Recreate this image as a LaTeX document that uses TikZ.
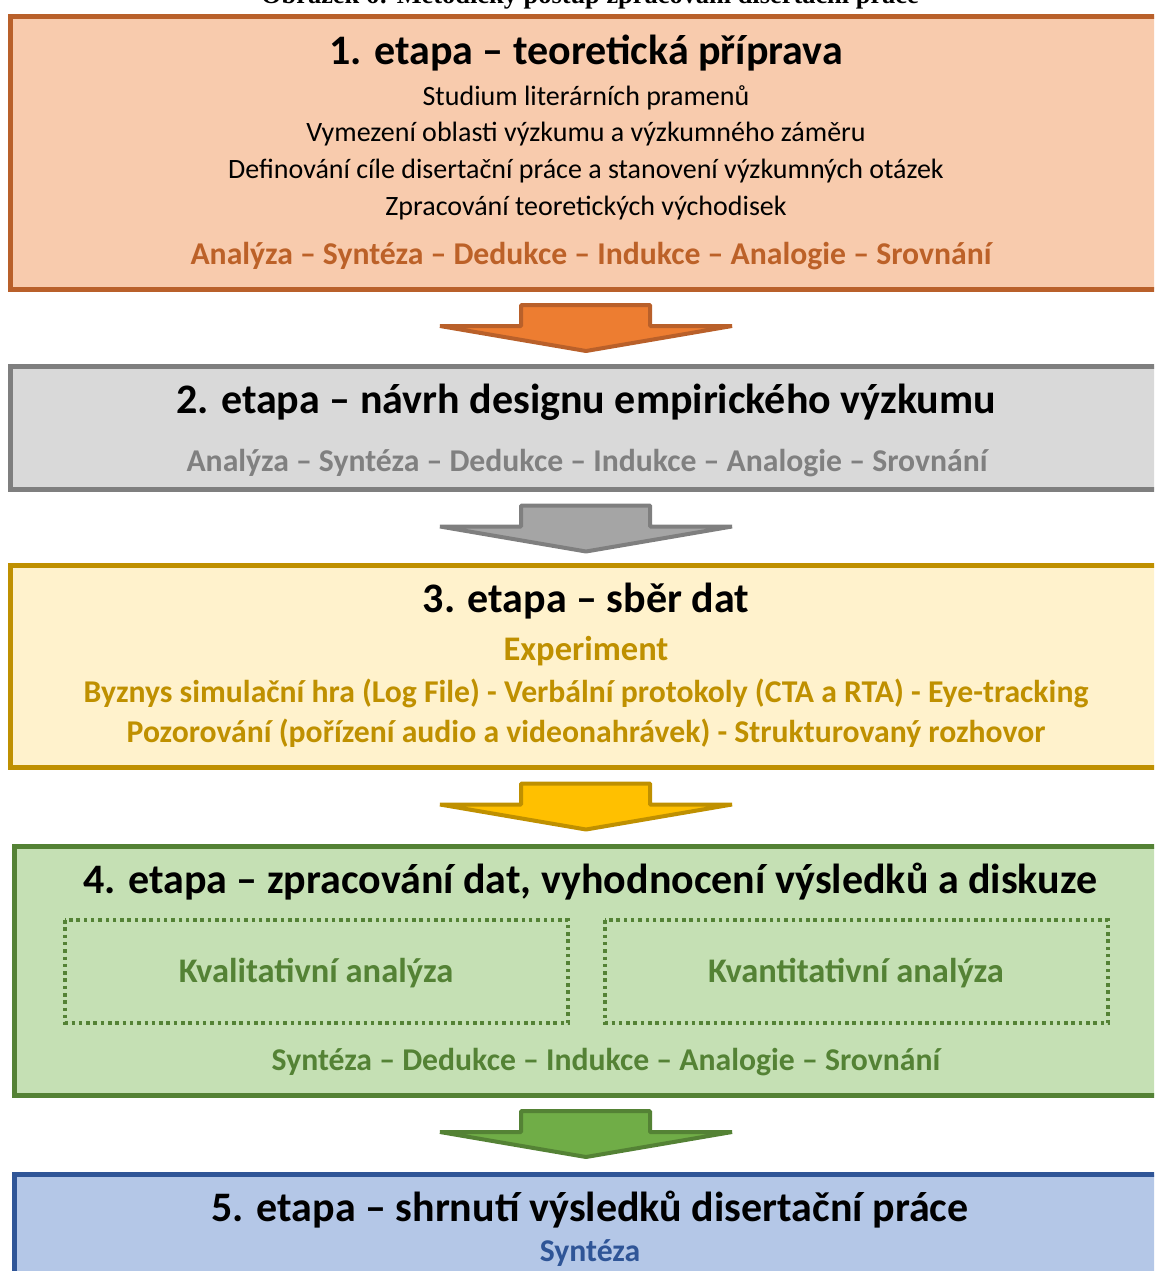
\documentclass[tikz,border=0pt]{standalone}
\usepackage{fontspec}
\setmainfont{Carlito}
\newfontfamily\capfont{Liberation Serif}
\definecolor{oBorder}{HTML}{B9602A}
\definecolor{oFill}{HTML}{F8CBAD}
\definecolor{oText}{HTML}{BC6128}
\definecolor{oArrow}{HTML}{ED7D31}
\definecolor{gBorder}{HTML}{7F7F7F}
\definecolor{gFill}{HTML}{D9D9D9}
\definecolor{gText}{HTML}{808080}
\definecolor{gArrow}{HTML}{A5A5A5}
\definecolor{yBorder}{HTML}{BF9000}
\definecolor{yFill}{HTML}{FFF2CC}
\definecolor{yArrow}{HTML}{FFC000}
\definecolor{vBorder}{HTML}{548235}
\definecolor{vFill}{HTML}{C5E0B4}
\definecolor{vArrow}{HTML}{70AD47}
\definecolor{bBorder}{HTML}{2F5597}
\definecolor{bFill}{HTML}{B4C7E7}
\tikzset{
  stagebox/.style={line width=5pt},
  titletext/.style={anchor=base, inner sep=0pt, font=\fontsize{42}{50}\selectfont\bfseries},
  bodytext/.style={anchor=base, inner sep=0pt, font=\fontsize{28}{32}\selectfont},
  methtext/.style={anchor=base, inner sep=0pt, font=\fontsize{31.7}{36}\selectfont\bfseries},
  exptext/.style={anchor=base, inner sep=0pt, font=\fontsize{34.5}{38}\selectfont\bfseries},
  anatext/.style={anchor=center, inner sep=0pt, font=\fontsize{34.5}{38}\selectfont\bfseries, text=vBorder},
  dotbox/.style={draw=vBorder, line width=3.5pt, dash pattern=on 3.5pt off 3.8pt},
  blockarr/.pic={\path[pic actions] (-65,0) -- (64,0) -- (64,21) -- (146,21) -- (0,46) -- (-146,21) -- (-65,21) -- cycle;},
  arrstyle/.style={line width=4pt, line join=bevel}
}
\begin{document}
\begin{tikzpicture}[x=1pt,y=-1pt]
\useasboundingbox (0,0) rectangle (1154,1271);
\clip (0,0) rectangle (1154,1271);
% caption (cut off at the top, as in the source)
\node[anchor=base, inner sep=0pt, font=\capfont\bfseries\fontsize{26.4}{30}\selectfont] (cap) at (590,4) {Obrázek 6: Metodický postup zpracování disertační práce};
% stage 1
\draw[stagebox, draw=oBorder, fill=oFill] (10.5,16.5) rectangle (1175,289);
\node[titletext] (t1) at (586,65) {1. etapa – teoretická příprava};
\node[bodytext] (l1a) at (586,106) {Studium literárních pramenů};
\node[bodytext] (l1b) at (586,142) {Vymezení oblasti výzkumu a výzkumného záměru};
\node[bodytext] (l1c) at (586,178) {Definování cíle disertační práce a stanovení výzkumných otázek};
\node[bodytext] (l1d) at (586,215) {Zpracování teoretických východisek};
\node[methtext, text=oText] (m1) at (591,264) {Analýza – Syntéza – Dedukce – Indukce – Analogie – Srovnání};
\pic[arrstyle, fill=oArrow, draw=oBorder] (a1) at (586,305) {blockarr};
% stage 2
\draw[stagebox, draw=gBorder, fill=gFill] (10.5,366) rectangle (1175,489.5);
\node[titletext] (t2) at (586,413) {2. etapa – návrh designu empirického výzkumu};
\node[methtext, text=gText] (m2) at (587,471) {Analýza – Syntéza – Dedukce – Indukce – Analogie – Srovnání};
\pic[arrstyle, fill=gArrow, draw=gBorder] (a2) at (586,505.5) {blockarr};
% stage 3
\draw[stagebox, draw=yBorder, fill=yFill] (10.5,565.5) rectangle (1175,767.5);
\node[titletext] (t3) at (586,612) {3. etapa – sběr dat};
\node[exptext, text=yBorder] (e3) at (586,660) {Experiment};
\node[methtext, text=yBorder] (m3a) at (586,702) {Byznys simulační hra (Log File) - Verbální protokoly (CTA a RTA) - Eye-tracking};
\node[methtext, text=yBorder] (m3b) at (586,742) {Pozorování (pořízení audio a videonahrávek) - Strukturovaný rozhovor};
\pic[arrstyle, fill=yArrow, draw=yBorder] (a3) at (586,783.5) {blockarr};
% stage 4
\draw[stagebox, draw=vBorder, fill=vFill] (14.5,846.5) rectangle (1175,1095.5);
\node[titletext] (t4) at (590,893) {4. etapa – zpracování dat, vyhodnocení výsledků a diskuze};
\draw[dotbox] (65,920) rectangle (568,1023);
\draw[dotbox] (605,920) rectangle (1108,1023);
\node[anatext] (k1) at (316,973) {Kvalitativní analýza};
\node[anatext] (k2) at (856,973) {Kvantitativní analýza};
\node[methtext, text=vBorder] (m4) at (606,1070) {Syntéza – Dedukce – Indukce – Analogie – Srovnání};
\pic[arrstyle, fill=vArrow, draw=vBorder] (a4) at (586,1111) {blockarr};
% stage 5
\draw[stagebox, draw=bBorder, fill=bFill] (14.5,1174.5) rectangle (1175,1300);
\node[titletext] (t5) at (590,1221) {5. etapa – shrnutí výsledků disertační práce};
\node[methtext, text=bBorder] (m5) at (590,1261) {Syntéza};
\end{tikzpicture}
\end{document}
